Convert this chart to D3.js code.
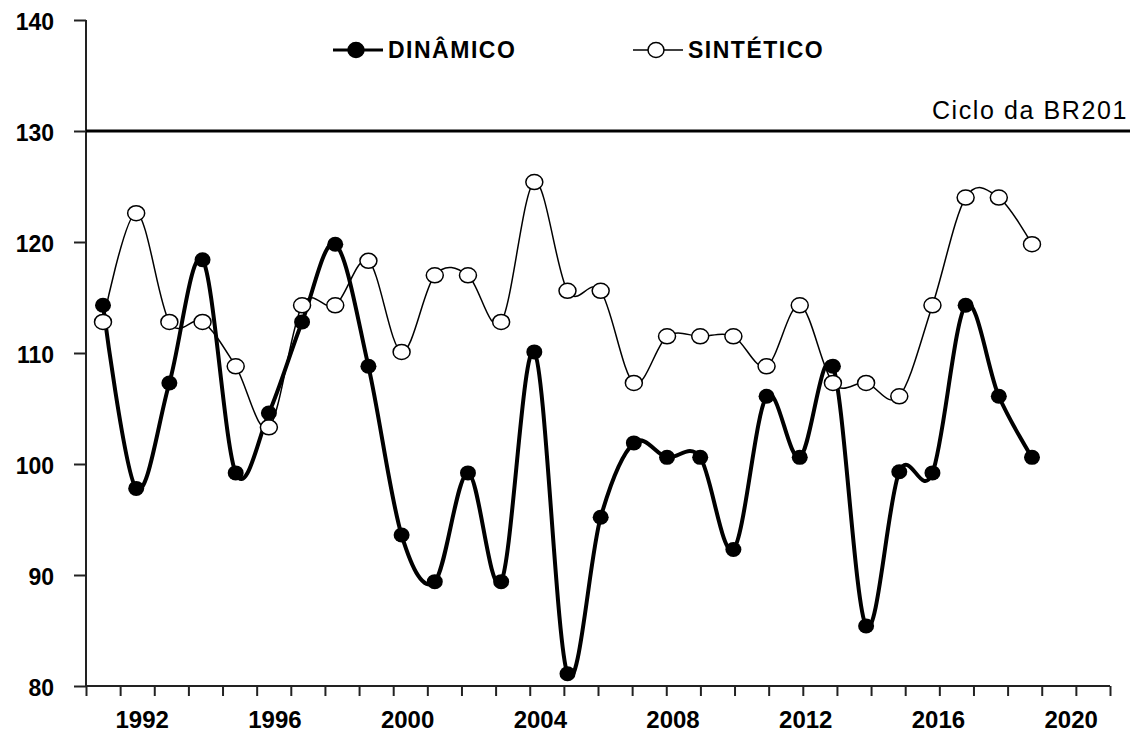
<!DOCTYPE html>

<head>
    <title>dinamico x sintetico</title>
    <meta charset="utf-8">

    <style>
    body {
        margin: 0;
        background-color: #FFF;
    }

    svg {
        display: block;
    }

    text {
        fill: #000;
        font-family: "Liberation Sans", Arial, sans-serif;
    }
    </style>

    <script src="https://cdnjs.cloudflare.com/ajax/libs/d3/7.8.5/d3.min.js"></script>
</head>

<body>
<script>
    // data
    const years = d3.range(1991, 2020);
    const dinamico = [114.3, 97.8, 107.3, 118.4, 99.2, 104.6, 112.8, 119.8, 108.8, 93.6,
                      89.4, 99.2, 89.4, 110.1, 81.1, 95.2, 101.9, 100.6, 100.6, 92.3,
                      106.1, 100.6, 108.8, 85.4, 99.3, 99.2, 114.3, 106.1, 100.6];
    const sintetico = [112.8, 122.6, 112.8, 112.8, 108.8, 103.3, 114.3, 114.3, 118.3, 110.1,
                       117.0, 117.0, 112.8, 125.4, 115.6, 115.6, 107.3, 111.5, 111.5, 111.5,
                       108.8, 114.3, 107.3, 107.3, 106.1, 114.3, 124.0, 124.0, 119.8];
    const yTicks = [80, 90, 100, 110, 120, 130, 140];
    const xLabels = [1992, 1996, 2000, 2004, 2008, 2012, 2016, 2020];
    const cicloValue = 130;
    const cicloLabel = 'Ciclo da BR201';
    const seriesNames = ['DINÂMICO', 'SINTÉTICO'];

    const width = 1130, height = 733;

    const svg = d3.select('body').append('svg')
        .attr('width', width)
        .attr('height', height);

    // scales
    const x = d3.scaleLinear().domain([1991, 2019]).range([103, 1032]);
    const y = d3.scaleLinear().domain([80, 140]).range([686, 20]);

    const axisLeft = 86, axisRight = 1110;
    const xa = x.invert(axisLeft), xb = x.invert(axisRight);
    const minorTicks = d3.range(31).map(i => xa + i * (xb - xa) / 30);

    // y axis
    const gy = svg.append('g')
        .attr('transform', `translate(${axisLeft},0)`)
        .call(d3.axisLeft(y).tickValues(yTicks).tickSize(12).tickFormat(d3.format('d')));
    gy.select('.domain').attr('stroke', '#222').attr('stroke-width', 2)
        .attr('d', `M0,${y(140)}V${y(80)}`);
    gy.selectAll('.tick line').attr('stroke', '#222').attr('stroke-width', 2);
    gy.selectAll('.tick text')
        .attr('x', -32)
        .attr('dy', '0.42em')
        .style('font-size', '23px')
        .style('font-weight', 'bold');

    // x axis
    const gx = svg.append('g')
        .attr('transform', `translate(0,${y(80)})`)
        .call(d3.axisBottom(x).tickValues(minorTicks).tickSize(10).tickFormat(''));
    gx.select('.domain').attr('stroke', '#222').attr('stroke-width', 2)
        .attr('d', `M${axisLeft},0H${axisRight}`);
    gx.selectAll('.tick line').attr('stroke', '#222').attr('stroke-width', 2);

    svg.append('g').selectAll('text')
        .data(xLabels)
        .join('text')
        .attr('x', d => x(d) + 6)
        .attr('y', y(80) + 42)
        .attr('text-anchor', 'middle')
        .style('font-size', '24px')
        .style('font-weight', 'bold')
        .text(d => d);

    // ciclo line
    svg.append('line')
        .attr('x1', axisLeft).attr('x2', width)
        .attr('y1', y(cicloValue)).attr('y2', y(cicloValue))
        .attr('stroke', '#000').attr('stroke-width', 3);
    svg.append('text')
        .attr('x', 1128)
        .attr('y', y(cicloValue) - 12)
        .attr('text-anchor', 'end')
        .style('font-size', '25px')
        .style('letter-spacing', '1.6px')
        .text(cicloLabel);

    // lines
    const line = d3.line()
        .x((d, i) => x(years[i]))
        .y(d => y(d))
        .curve(d3.curveCatmullRom.alpha(0));

    svg.append('path')
        .datum(sintetico)
        .attr('fill', 'none')
        .attr('stroke', '#000')
        .attr('stroke-width', 1.5)
        .attr('d', line);

    svg.append('path')
        .datum(dinamico)
        .attr('fill', 'none')
        .attr('stroke', '#000')
        .attr('stroke-width', 4)
        .attr('d', line);

    svg.append('g').selectAll('ellipse')
        .data(sintetico)
        .join('ellipse')
        .attr('cx', (d, i) => x(years[i]))
        .attr('cy', d => y(d))
        .attr('rx', 8.5).attr('ry', 7.5)
        .attr('fill', '#fff')
        .attr('stroke', '#000')
        .attr('stroke-width', 1.5);

    svg.append('g').selectAll('ellipse')
        .data(dinamico)
        .join('ellipse')
        .attr('cx', (d, i) => x(years[i]))
        .attr('cy', d => y(d))
        .attr('rx', 8).attr('ry', 7.5)
        .attr('fill', '#000');

    // legend
    const legend = [
        { name: seriesNames[0], x: 333, filled: true },
        { name: seriesNames[1], x: 633, filled: false }
    ];
    const lg = svg.append('g').selectAll('g')
        .data(legend)
        .join('g')
        .attr('transform', d => `translate(${d.x},50)`);
    lg.append('line')
        .attr('x1', 0).attr('x2', 50)
        .attr('stroke', '#000')
        .attr('stroke-width', d => d.filled ? 3 : 1.5);
    lg.append('ellipse')
        .attr('cx', 23).attr('rx', 8).attr('ry', 7.5)
        .attr('fill', d => d.filled ? '#000' : '#fff')
        .attr('stroke', '#000')
        .attr('stroke-width', 1.5);
    lg.append('text')
        .attr('x', 55)
        .attr('dy', '0.36em')
        .style('font-size', '23px')
        .style('font-weight', 'bold')
        .style('letter-spacing', '1.5px')
        .text(d => d.name);
</script>
</body>

</html>
